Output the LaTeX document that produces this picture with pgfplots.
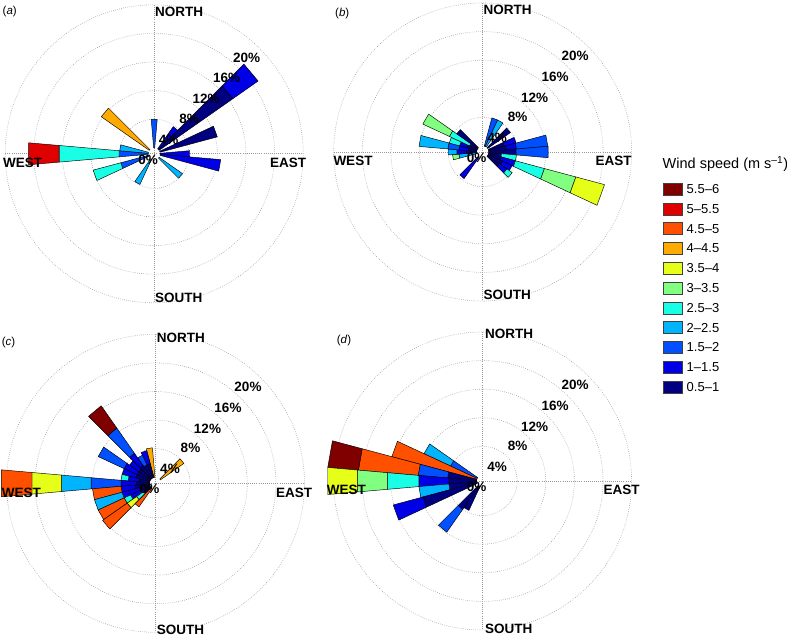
\documentclass[border=0pt]{standalone}
\usepackage{fontspec}
\setmainfont{Liberation Sans}
\usepackage{pgfplots}
\pgfplotsset{compat=1.18}

% wind speed bins (m/s)
\definecolor{c55}{RGB}{128,0,0}
\definecolor{c50}{RGB}{225,0,0}
\definecolor{c45}{RGB}{255,80,0}
\definecolor{c40}{RGB}{255,170,0}
\definecolor{c35}{RGB}{230,255,25}
\definecolor{c30}{RGB}{128,255,128}
\definecolor{c25}{RGB}{25,255,230}
\definecolor{c20}{RGB}{0,180,255}
\definecolor{c15}{RGB}{0,80,255}
\definecolor{c10}{RGB}{0,0,230}
\definecolor{c05}{RGB}{0,0,128}

\tikzset{
  gridline/.style={gray!80, line width=0.6bp, dash pattern=on 0.6bp off 1.5bp},
  lab/.style={font=\fontsize{13.5bp}{16bp}\selectfont\bfseries, inner sep=0pt},
}
\pgfplotsset{rose/.style={anchor=center, x=7.15bp, y=7.15bp,
  xmin=-21, xmax=21, ymin=-21, ymax=21, hide axis, clip=false}}

% one stacked segment: bearing, lower %, upper %, colour
\newcommand\seg[4]{\addplot[draw=black, line width=0.45bp, line join=round, fill=#4]
  table[row sep=\\,
    x expr={(\thisrow{r}+0.84)*sin(\thisrow{d}+\thisrow{o})},
    y expr={(\thisrow{r}+0.84)*cos(\thisrow{d}+\thisrow{o})}]
  {d o r\\ #1 -5 #2\\ #1 5 #2\\ #1 5 #3\\ #1 -5 #3\\ #1 -5 #2\\};}

\newcommand\grid[2]{%
  \foreach \rr in {34.6,63.2,91.8,120.4,149.0}
    \draw[gridline] (#1,#2) circle[radius=\rr bp];
  \draw[gridline] (#1-149,#2) -- (#1+149,#2);
  \draw[gridline] (#1,#2-149) -- (#1,#2+149);
}
\newcommand\pct[2]{%
  \node[lab] at (#1-6,#2+6) {0\%};
  \node[lab] at (#1+14.5,#2-14) {4\%};
  \node[lab] at (#1+35,#2-35) {8\%};
  \node[lab] at (#1+52,#2-54.5) {12\%};
  \node[lab] at (#1+72.5,#2-75.5) {16\%};
  \node[lab] at (#1+92.5,#2-96) {20\%};
}

\begin{document}
\begin{tikzpicture}[x=1bp,y=-1bp]
\useasboundingbox (0,0) rectangle (787,637);

\grid{154.2}{153.8}
\grid{482.7}{152}
\grid{155.5}{483.3}
\grid{482.6}{481}

% (a)
\begin{axis}[rose, at={(154.2bp,-153.8bp)}]
\seg{0}{0}{4.0}{c15}
\seg{40}{0}{3.8}{c10}
\seg{50}{0}{12.6}{c05}
\seg{50}{12.6}{16.9}{c10}
\seg{70}{0}{8.3}{c05}
\seg{90}{0}{4.15}{c10}
\seg{100}{0}{8.5}{c10}
\seg{130}{0}{4.0}{c20}
\seg{210}{0}{3.9}{c20}
\seg{250}{0}{4.0}{c15}
\seg{250}{4.0}{8.0}{c25}
\seg{270}{0}{4.1}{c15}
\seg{270}{4.1}{12.5}{c25}
\seg{270}{12.5}{16.8}{c50}
\seg{280}{0}{4.0}{c20}
\seg{310}{0}{8.2}{c40}
\end{axis}

% (b)
\begin{axis}[rose, at={(482.7bp,-152bp)}]
\seg{20}{0}{4.1}{c15}
\seg{30}{0}{4.1}{c20}
\seg{50}{0}{3.9}{c05}
\seg{70}{0}{2.3}{c05}
\seg{70}{2.3}{4.0}{c10}
\seg{80}{0}{2.5}{c05}
\seg{80}{2.5}{3.9}{c10}
\seg{80}{3.9}{8.3}{c15}
\seg{90}{0}{3.9}{c05}
\seg{90}{3.9}{8.35}{c15}
\seg{100}{0}{1.8}{c05}
\seg{100}{1.8}{3.9}{c25}
\seg{110}{0}{1.8}{c05}
\seg{110}{1.8}{3.9}{c10}
\seg{110}{3.9}{8.1}{c25}
\seg{110}{8.1}{12.65}{c30}
\seg{110}{12.65}{16.8}{c35}
\seg{120}{0}{2.2}{c05}
\seg{120}{2.2}{3.7}{c10}
\seg{130}{0}{2.0}{c05}
\seg{130}{2.0}{3.3}{c10}
\seg{130}{3.3}{4.2}{c25}
\seg{220}{0}{3.7}{c10}
\seg{260}{0}{2.5}{c20}
\seg{260}{2.5}{3.4}{c30}
\seg{270}{0}{1.5}{c05}
\seg{270}{1.5}{2.8}{c10}
\seg{270}{2.8}{4.0}{c20}
\seg{280}{0}{1.2}{c05}
\seg{280}{1.2}{2.5}{c10}
\seg{280}{2.5}{4.05}{c15}
\seg{280}{4.05}{8.1}{c20}
\seg{290}{0}{1.5}{c05}
\seg{290}{1.5}{2.5}{c10}
\seg{290}{2.5}{4.0}{c25}
\seg{300}{0}{1.2}{c05}
\seg{300}{1.2}{4.3}{c25}
\seg{300}{4.3}{8.4}{c30}
\seg{310}{0}{3.6}{c05}
\end{axis}

% (c)
\begin{axis}[rose, at={(155.5bp,-483.3bp)}]
\seg{50}{0}{4.0}{c40}
\seg{350}{0}{4.15}{c40}
\seg{340}{0}{2.0}{c05}
\seg{340}{2.0}{3.9}{c10}
\seg{330}{0}{2.0}{c05}
\seg{330}{2.0}{3.5}{c15}
\seg{320}{0}{2.2}{c05}
\seg{320}{2.2}{4.3}{c10}
\seg{320}{4.3}{8.6}{c15}
\seg{320}{8.6}{12.4}{c55}
\seg{310}{0}{2.0}{c05}
\seg{310}{2.0}{3.6}{c10}
\seg{300}{0}{2.0}{c05}
\seg{300}{2.0}{4.0}{c10}
\seg{300}{4.0}{8.0}{c15}
\seg{290}{0}{2.0}{c05}
\seg{290}{2.0}{4.0}{c10}
\seg{280}{0}{1.5}{c05}
\seg{280}{1.5}{3.0}{c10}
\seg{280}{3.0}{4.0}{c25}
\seg{270}{0}{2.0}{c05}
\seg{270}{2.0}{4.0}{c10}
\seg{270}{4.0}{8.2}{c15}
\seg{270}{8.2}{12.35}{c20}
\seg{270}{12.35}{16.5}{c35}
\seg{270}{16.5}{20.8}{c45}
\seg{260}{0}{2.0}{c05}
\seg{260}{2.0}{4.0}{c10}
\seg{260}{4.0}{8.0}{c45}
\seg{250}{0}{1.5}{c05}
\seg{250}{1.5}{4.0}{c10}
\seg{250}{4.0}{8.0}{c20}
\seg{240}{0}{1.5}{c05}
\seg{240}{1.5}{3.0}{c10}
\seg{240}{3.0}{4.0}{c25}
\seg{240}{4.0}{8.0}{c45}
\seg{230}{0}{1.2}{c05}
\seg{230}{1.2}{2.4}{c25}
\seg{230}{2.4}{4.0}{c35}
\seg{230}{4.0}{8.2}{c45}
\seg{220}{0}{3.2}{c45}
\end{axis}

% (d)
\begin{axis}[rose, at={(482.6bp,-481bp)}]
\seg{300}{0}{4.1}{c15}
\seg{300}{4.1}{8.2}{c20}
\seg{290}{0}{12.3}{c45}
\seg{280}{0}{4.06}{c05}
\seg{280}{4.06}{8.2}{c15}
\seg{280}{8.2}{16.6}{c45}
\seg{280}{16.6}{20.9}{c55}
\seg{270}{0}{3.9}{c05}
\seg{270}{3.9}{8.1}{c10}
\seg{270}{8.1}{12.5}{c25}
\seg{270}{12.5}{16.7}{c30}
\seg{270}{16.7}{20.9}{c35}
\seg{260}{0}{3.9}{c05}
\seg{260}{3.9}{8.1}{c20}
\seg{250}{0}{7.8}{c05}
\seg{250}{7.8}{12.1}{c10}
\seg{220}{0}{4.0}{c05}
\seg{220}{4.0}{7.9}{c15}
\seg{210}{0}{3.7}{c05}
\end{axis}

% radial labels
\pct{154.2}{153.8}
\pct{482.7}{152}
\pct{155.5}{483.3}
\pct{482.6}{481}

% compass labels
\node[lab, anchor=west] at (155,12.3) {NORTH};
\node[lab, anchor=west] at (3,163) {WEST};
\node[lab, anchor=west] at (270,163) {EAST};
\node[lab, anchor=west] at (155,297.5) {SOUTH};
\node[lab, anchor=west] at (483.3,10) {NORTH};
\node[lab, anchor=west] at (333.3,160.5) {WEST};
\node[lab, anchor=east] at (631.7,161.3) {EAST};
\node[lab, anchor=west] at (483.3,294.7) {SOUTH};
\node[lab, anchor=west] at (156.7,337.5) {NORTH};
\node[lab, anchor=west] at (1.7,493.3) {WEST};
\node[lab, anchor=west] at (276,493) {EAST};
\node[lab, anchor=west] at (156.7,629.8) {SOUTH};
\node[lab, anchor=west] at (485,333.8) {NORTH};
\node[lab, anchor=west] at (326.7,490) {WEST};
\node[lab, anchor=west] at (603.3,490) {EAST};
\node[lab, anchor=west] at (485,628.8) {SOUTH};

% panel letters
\tikzset{plab/.style={anchor=west, inner sep=0pt, font=\fontsize{11.5bp}{13bp}\selectfont}}
\node[plab] at (2.5,12) {(\textit{a})};
\node[plab] at (335,13.3) {(\textit{b})};
\node[plab] at (1.7,342.5) {(\textit{c})};
\node[plab] at (336.7,341) {(\textit{d})};

% legend
\node[anchor=west, inner sep=0pt, font=\fontsize{14.5bp}{17bp}\selectfont] at (662.5,164) {Wind speed (m s\textsuperscript{–1})};
\foreach \txt/\col [count=\i from 0] in {5.5–6/c55, 5–5.5/c50, 4.5–5/c45, 4–4.5/c40, 3.5–4/c35, 3–3.5/c30, 2.5–3/c25, 2–2.5/c20, 1.5–2/c15, 1–1.5/c10, 0.5–1/c05}{
  \filldraw[fill=\col, draw=black!75, line width=0.5bp] (663,{183+19.8*\i}) rectangle ++(19,12);
  \node[anchor=west, inner sep=0pt, font=\fontsize{13bp}{15bp}\selectfont] at (686.5,{189+19.8*\i}) {\txt};
}
\end{tikzpicture}
\end{document}
